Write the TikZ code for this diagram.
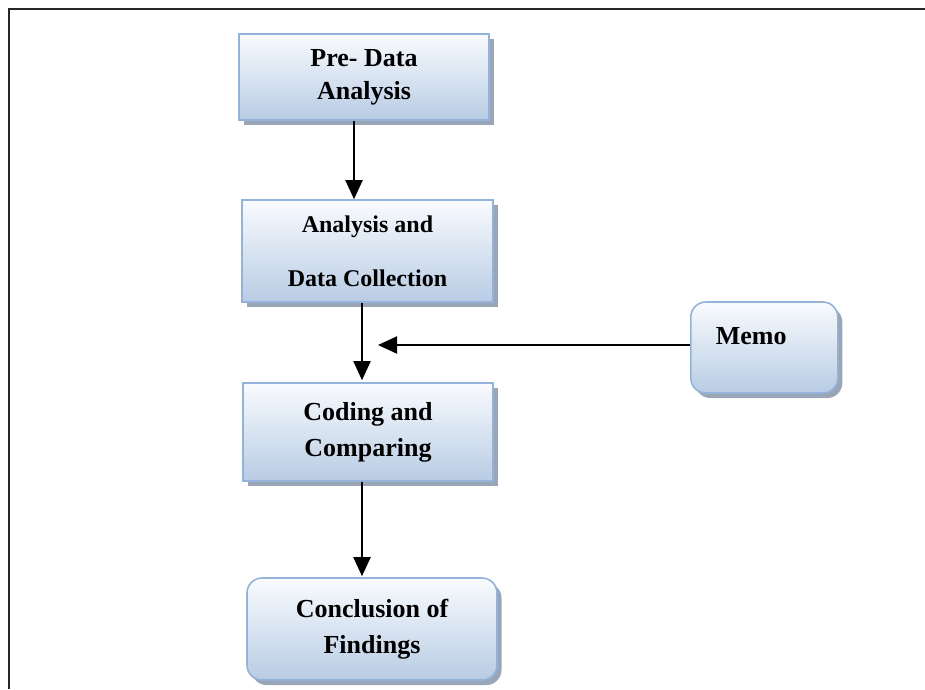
\documentclass[tikz,border=0pt]{standalone}
\usepackage{fontspec}
\setmainfont{Liberation Serif}
\usetikzlibrary{arrows.meta,shadows}
\definecolor{boxtop}{HTML}{F9FBFE}
\definecolor{boxbot}{HTML}{B8CCE4}
\definecolor{boxline}{HTML}{93B3DA}
\definecolor{shadowc}{HTML}{9AA6B6}
\tikzset{
  flowbox/.style={draw=boxline, line width=1.6pt, top color=boxtop, bottom color=boxbot,
    drop shadow={shadow xshift=4.5pt, shadow yshift=-5pt, fill=shadowc, opacity=1},
    align=center, font=\bfseries, inner sep=0pt},
  roundbox/.style={flowbox, rounded corners=15pt},
  arr/.style={line width=2pt, -{Triangle[width=17pt,length=19pt]}},
  frameline/.style={line width=2pt, draw=black!85}
}
\begin{document}
\begin{tikzpicture}[x=1pt,y=-1pt]
\useasboundingbox (0,0) rectangle (925,689);
\draw[frameline] (9,689) -- (9,9) -- (925,9);

\node[flowbox, minimum width=250pt, minimum height=86pt,
  font=\bfseries\fontsize{26}{33}\selectfont] (b1) at (364,77) {Pre- Data\\Analysis};
\node[flowbox, minimum width=251pt, minimum height=102pt,
  font=\bfseries\fontsize{24}{54}\selectfont] (b2) at (367.5,251) {Analysis and\\Data Collection};
\node[flowbox, minimum width=250pt, minimum height=98pt,
  font=\bfseries\fontsize{26}{36}\selectfont] (b3) at (368,432) {Coding and\\Comparing};
\node[roundbox, minimum width=250pt, minimum height=102pt,
  font=\bfseries\fontsize{26}{36}\selectfont] (b4) at (372,629) {Conclusion of\\Findings};
\node[roundbox, align=left, text width=97pt, inner xsep=25pt, inner ysep=12pt,
  text height=30pt, text depth=37pt,
  font=\bfseries\fontsize{26}{32}\selectfont, anchor=base west] (memo) at (690,344) {Memo};

\coordinate (tip) at (378,345);

\draw[arr] ([xshift=-10pt]b1.south) -- ([xshift=-10pt]b1.south |- b2.north);
\draw[arr] ([xshift=-5.5pt]b2.south) -- ([xshift=-5.5pt,yshift=2pt]b2.south |- b3.north);
\draw[arr] (memo.west |- tip) -- (tip);
\draw[arr] ([xshift=-6pt]b3.south) -- ([xshift=-6pt,yshift=1pt]b3.south |- b4.north);
\end{tikzpicture}
\end{document}
